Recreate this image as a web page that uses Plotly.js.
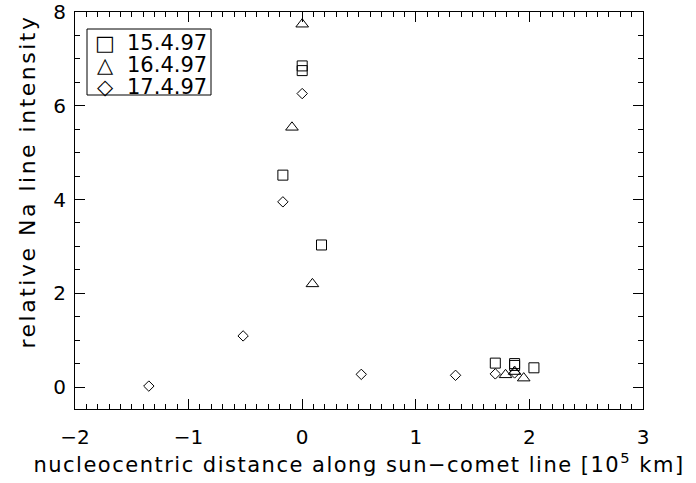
<!DOCTYPE html>
<html>
<head>
<meta charset="utf-8">
<script src="https://cdn.plot.ly/plotly-3.0.1.min.js"></script>
<style>html,body{margin:0;padding:0;background:#fff;}#chart{width:696px;height:483px;}
.xtitle{letter-spacing:1.5px;}
g.annotation[data-index="6"] text{letter-spacing:2.5px;}</style>
</head>
<body>
<div id="chart"></div>
<script>
// 15.4.97 (squares)
var x15 = [-0.17, 0.0, 0.0, 0.17, 1.70, 1.87, 1.87, 2.04];
var y15 = [4.52, 6.85, 6.75, 3.03, 0.51, 0.50, 0.46, 0.41];
// 16.4.97 (triangles)
var x16 = [0.0, -0.09, 0.09, 1.79, 1.87, 1.95];
var y16 = [7.74, 5.54, 2.20, 0.26, 0.33, 0.19];
// 17.4.97 (diamonds)
var x17 = [-1.35, -0.52, -0.17, 0.0, 0.52, 1.35, 1.70, 1.87];
var y17 = [0.02, 1.09, 3.95, 6.26, 0.27, 0.25, 0.28, 0.30];

var names = ['15.4.97', '16.4.97', '17.4.97'];
var legendGlyphs = ['\u25A1', '\u25B3', '\u25C7'];
var font = "DejaVu Sans, Liberation Sans, sans-serif";

// plot area in pixels (for paper-coordinate conversions)
var L = 75, R = 643, T = 12, B = 409;
function px(x) { return (x - L) / (R - L); }
function py(y) { return 1 - (y - T) / (B - T); }

function tr(x, y, name, sym, size) {
  return {x: x, y: y, name: name, type: 'scatter', mode: 'markers', showlegend: false,
    marker: {symbol: sym, size: size, color: '#000', line: {color: '#000', width: 1}}};
}
var data = [
  tr(x15, y15, names[0], 'square-open', 10),
  tr(x16, y16, names[1], 'triangle-up-open', 11),
  tr(x17, y17, names[2], 'diamond-open', 8)
];

var axBase = {showgrid: false, zeroline: false, showline: true, linecolor: '#000', linewidth: 1,
  mirror: 'allticks', ticks: 'inside', tickcolor: '#000', tickwidth: 1, ticklen: 10,
  ticklabeloverflow: 'allow', tickfont: {family: font, size: 20, color: '#000'}};

var annotations = [];
var rowY = [43, 65, 87];
for (var i = 0; i < names.length; i++) {
  annotations.push({xref: 'paper', yref: 'paper', x: px(105), y: py(rowY[i]), text: legendGlyphs[i],
    showarrow: false, xanchor: 'center', yanchor: 'middle', font: {family: font, size: 21, color: '#000'}});
  annotations.push({xref: 'paper', yref: 'paper', x: px(125), y: py(rowY[i]), text: names[i],
    showarrow: false, xanchor: 'left', yanchor: 'middle', font: {family: font, size: 21, color: '#000'}});
}
annotations.push({xref: 'paper', yref: 'paper', x: px(27), y: py(182), text: 'relative Na line intensity',
  textangle: -90, showarrow: false, xanchor: 'center', yanchor: 'middle',
  font: {family: font, size: 22, color: '#000'}});

var layout = {
  width: 696, height: 483,
  margin: {l: L, r: 696 - R, t: T, b: 483 - B},
  paper_bgcolor: '#fff', plot_bgcolor: '#fff',
  showlegend: false,
  annotations: annotations,
  shapes: [{type: 'rect', xref: 'paper', yref: 'paper', x0: px(87), x1: px(211), y0: py(95), y1: py(29),
    line: {color: '#000', width: 1}, fillcolor: 'rgba(0,0,0,0)', layer: 'above'}],
  xaxis: Object.assign({}, axBase, {range: [-2, 3.0001], dtick: 1, tick0: 0, ticklabelstandoff: 10,
    minor: {dtick: 0.1, ticklen: 5, ticks: 'inside', tickcolor: '#000', tickwidth: 1},
    title: {text: 'nucleocentric distance along sun\u2212comet line [10<sup>5</sup> km]', standoff: 6,
      font: {family: font, size: 21, color: '#000'}}}),
  yaxis: Object.assign({}, axBase, {range: [-0.469, 8.0001], dtick: 2, tick0: 0, ticklabelstandoff: 4,
    minor: {dtick: 0.5, ticklen: 5, ticks: 'inside', tickcolor: '#000', tickwidth: 1}})
};

Plotly.newPlot('chart', data, layout, {displayModeBar: false, staticPlot: true});
</script>
</body>
</html>
